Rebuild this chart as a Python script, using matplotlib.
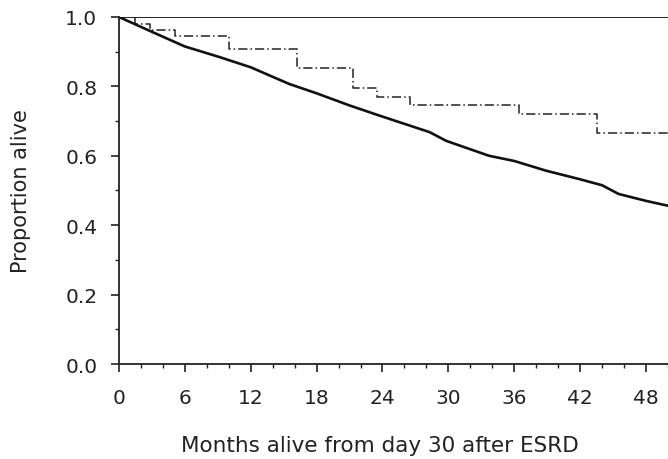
import matplotlib
matplotlib.use("Agg")
import matplotlib.pyplot as plt
from matplotlib.ticker import MultipleLocator

plt.rcParams['font.family'] = ['DejaVu Sans']

# solid curve: overall survival
months_all = [0, 2.8, 6, 9.2, 12, 15.5, 18, 21, 23.7, 26, 28.3, 29.8, 33.7,
              36, 38.9, 41.9, 44, 45.5, 48, 50]
surv_all = [1.0, 0.96, 0.915, 0.884, 0.855, 0.807, 0.78, 0.745, 0.716, 0.692,
            0.668, 0.643, 0.600, 0.585, 0.557, 0.533, 0.515, 0.490, 0.47, 0.456]

# dash-dot step curve
months_grp = [0, 1.5, 2.8, 5.1, 10.0, 16.2, 21.3, 23.5, 26.5, 36.4, 43.5, 50]
surv_grp = [1.0, 0.98, 0.961, 0.946, 0.909, 0.852, 0.794, 0.770, 0.746, 0.720,
            0.666, 0.666]

# flat curve at 1.0
months_top = [0, 50]
surv_top = [1.0, 1.0]

xticks = [0, 6, 12, 18, 24, 30, 36, 42, 48]
yticks = [0.0, 0.2, 0.4, 0.6, 0.8, 1.0]

fig = plt.figure(figsize=(6.68, 4.6), dpi=100)
ax = fig.add_axes([0.178, 0.2065, 0.822, 0.7545])

ax.plot(months_top, surv_top, color='#222222', lw=1.4)
ax.plot(months_grp, surv_grp, color='#222222', lw=1.1, drawstyle='steps-post',
        dashes=(6, 2, 1, 2))
ax.plot(months_all, surv_all, color='#111111', lw=1.9)

ax.set_xlim(0, 50)
ax.set_ylim(0, 1.0)
ax.set_xticks(xticks)
ax.set_yticks(yticks)
ax.set_yticklabels([f"{v:.1f}" for v in yticks])
ax.xaxis.set_minor_locator(MultipleLocator(2))
ax.yaxis.set_minor_locator(MultipleLocator(0.1))

for s in ['top', 'right']:
    ax.spines[s].set_visible(False)
for s in ['left', 'bottom']:
    ax.spines[s].set_linewidth(1.3)
    ax.spines[s].set_color('#222222')

ax.tick_params(axis='both', which='major', length=6, width=1.2, labelsize=14.5,
               color='#222222', labelcolor='#222222')
ax.tick_params(axis='both', which='minor', length=3, width=1.0, color='#222222')
ax.tick_params(axis='x', which='major', pad=11)
ax.tick_params(axis='y', which='major', pad=9.5)

ax.set_xlabel("Months alive from day 30 after ESRD", fontsize=15.5,
              color='#222222')
ax.xaxis.set_label_coords(0.475, -0.205)
ax.set_ylabel("Proportion alive", fontsize=15, labelpad=25, color='#222222')

fig.savefig("out.png", dpi=100)
